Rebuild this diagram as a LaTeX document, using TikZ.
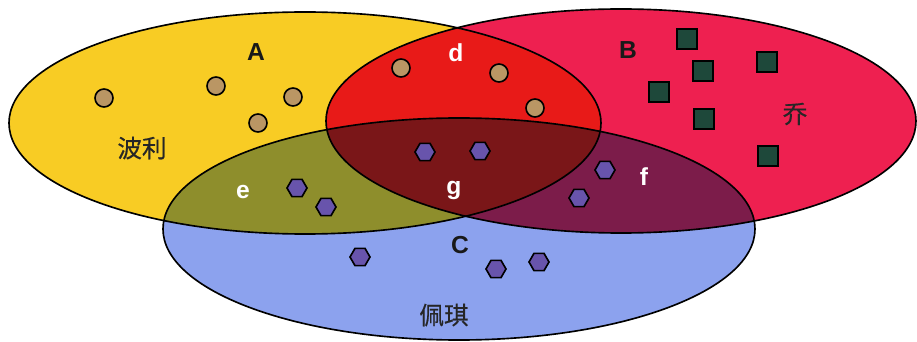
\documentclass[tikz,border=0pt]{standalone}
\usepackage{fontspec}
\setsansfont{Liberation Sans}
\newfontfamily\cjk[FakeBold=0.5]{Noto Sans CJK SC}

\definecolor{setA}{RGB}{248,204,36}
\definecolor{setB}{RGB}{238,32,80}
\definecolor{setC}{RGB}{140,162,238}
\definecolor{setAB}{RGB}{232,26,24}
\definecolor{setAC}{RGB}{142,142,44}
\definecolor{setBC}{RGB}{124,28,74}
\definecolor{setABC}{RGB}{122,22,24}
\definecolor{dotfill}{RGB}{186,150,100}
\definecolor{sqfill}{RGB}{30,72,58}
\definecolor{hexfill}{RGB}{104,84,172}

\begin{document}
\begin{tikzpicture}[x=0.03cm, y=-0.03cm,
    outline/.style={draw=black, line width=1.4pt},
    setname/.style={font=\sffamily\bfseries\fontsize{21}{21}\selectfont, text=black!90},
    region/.style={font=\sffamily\bfseries\fontsize{21}{21}\selectfont, text=white},
    person/.style={font=\cjk\fontsize{21}{21}\selectfont, text=black!85},
    dotmark/.style={fill=dotfill, draw=black, line width=1.4pt},
    sqmark/.style={fill=sqfill, draw=black, line width=1.4pt},
    hexmark/.style={fill=hexfill, draw=black, line width=1.4pt}]
    \useasboundingbox (0,0) rectangle (917,342);

    % the three sets
    \fill[setA] (305,123) ellipse [x radius=296, y radius=111];
    \fill[setB] (621,121) ellipse [x radius=295, y radius=112];
    \fill[setC] (459,229) ellipse [x radius=296, y radius=111];

    % overlaps
    \begin{scope}
        \clip (305,123) ellipse [x radius=296, y radius=111];
        \fill[setAB] (621,121) ellipse [x radius=295, y radius=112];
        \fill[setAC] (459,229) ellipse [x radius=296, y radius=111];
    \end{scope}
    \begin{scope}
        \clip (621,121) ellipse [x radius=295, y radius=112];
        \fill[setBC] (459,229) ellipse [x radius=296, y radius=111];
    \end{scope}
    \begin{scope}
        \clip (305,123) ellipse [x radius=296, y radius=111];
        \clip (621,121) ellipse [x radius=295, y radius=112];
        \fill[setABC] (459,229) ellipse [x radius=296, y radius=111];
    \end{scope}

    \draw[outline] (305,123) ellipse [x radius=296, y radius=111];
    \draw[outline] (621,121) ellipse [x radius=295, y radius=112];
    \draw[outline] (459,229) ellipse [x radius=296, y radius=111];

    % members
    \foreach \x/\y in {104/98, 216/86, 293/97, 258/123, 401/68, 499/73, 535/108} {
            \draw[dotmark] (\x,\y) circle (9);
        }
    \foreach \x/\y in {687/39, 767/62, 703/71, 659/92, 704/119, 768/156} {
            \draw[sqmark] (\x,\y) +(-10,-10) rectangle +(10,10);
        }
    \foreach \x/\y in {425/152, 480/151, 297/188, 326/207, 605/170, 579/198, 360/257, 496/269, 539/262} {
            \draw[hexmark] (\x,\y) +(0:10) -- +(60:10) -- +(120:10) -- +(180:10) -- +(240:10) -- +(300:10) -- cycle;
        }

    % labels
    \node[setname] (labA) at (256,52) {A};
    \node[setname] (labB) at (628,50) {B};
    \node[setname] (labC) at (460,245) {C};
    \node[region] (labd) at (456,53) {d};
    \node[region] (labe) at (243,192) {e};
    \node[region] (labf) at (644,177) {f};
    \node[region] (labg) at (454,190) {g};
    \node[person] (polly) at (142,148) {波利};
    \node[person] (joe) at (795,114) {乔};
    \node[person] (peggy) at (444,315) {佩琪};
\end{tikzpicture}
\end{document}
